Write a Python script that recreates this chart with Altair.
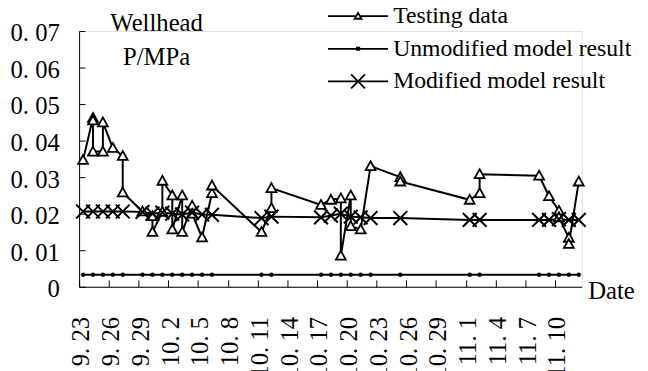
import altair as alt
import pandas as pd

# ---------------- data ----------------
tick_days = [0, 3, 6, 9, 12, 15, 18, 21, 24, 27, 30, 33, 36, 39, 42, 45, 48]
tick_labels = ["9. 23", "9. 26", "9. 29", "10. 2", "10. 5", "10. 8", "10. 11", "10. 14",
               "10. 17", "10. 20", "10. 23", "10. 26", "10. 29", "11. 1", "11. 4", "11. 7", "11. 10"]
y_ticks = [0, 0.01, 0.02, 0.03, 0.04, 0.05, 0.06, 0.07]
y_labels = ["0", "0. 01", "0. 02", "0. 03", "0. 04", "0. 05", "0. 06", "0. 07"]

series_names = ["Testing data", "Unmodified model result", "Modified model result"]

# days counted from 9.23
test_days = [0, 1, 1, 1, 2, 2, 3, 4, 4, 6, 7, 7, 8, 8, 9, 9, 10, 10, 11, 11, 12, 13, 13,
             18, 19, 19, 24, 25, 26, 26, 27, 27, 28, 29, 32, 32, 39, 40, 40,
             46, 47, 48, 48, 49, 49, 50]
test_values = [0.0347, 0.0462, 0.0455, 0.0370, 0.0370, 0.0450, 0.0380, 0.0358, 0.0258,
               0.0206, 0.0193, 0.0150, 0.0205, 0.0290, 0.0250, 0.0157, 0.0250, 0.0150,
               0.0222, 0.0200, 0.0135, 0.0256, 0.0277,
               0.0150, 0.0215, 0.0270, 0.0224, 0.0238, 0.0242, 0.0085, 0.0250, 0.0166,
               0.0157, 0.0330, 0.0300, 0.0288, 0.0238, 0.0256, 0.0308,
               0.0304, 0.0248, 0.0208, 0.0190, 0.0134, 0.0117, 0.0288]

model_days = [0, 1, 2, 3, 4, 6, 7, 8, 9, 10, 11, 12, 13, 18, 19, 24, 25, 26, 27, 28, 29,
              32, 39, 40, 46, 47, 48, 49, 50]
unmod_values = [0.0033, 0.0033, 0.0033, 0.0033, 0.0033, 0.0033, 0.0033, 0.0033, 0.0033,
                0.0033, 0.0033, 0.0033, 0.0033, 0.0033, 0.0033, 0.0033, 0.0033, 0.0033,
                0.0033, 0.0033, 0.0033, 0.0033, 0.0033, 0.0033, 0.0033, 0.0033, 0.0033,
                0.0033, 0.0033]
mod_values = [0.0206, 0.0206, 0.0206, 0.0206, 0.0206, 0.0205, 0.0200, 0.0203, 0.0200,
              0.0198, 0.0203, 0.0198, 0.0197, 0.0188, 0.0192, 0.0190, 0.0195, 0.0200,
              0.0192, 0.0190, 0.0188, 0.0188, 0.0183, 0.0183, 0.0183, 0.0183, 0.0185,
              0.0183, 0.0183]

rows = []
for i, (d, v) in enumerate(zip(test_days, test_values)):
    rows.append({"series": series_names[0], "day": d, "value": v, "idx": i})
for i, (d, v) in enumerate(zip(model_days, unmod_values)):
    rows.append({"series": series_names[1], "day": d, "value": v, "idx": i})
for i, (d, v) in enumerate(zip(model_days, mod_values)):
    rows.append({"series": series_names[2], "day": d, "value": v, "idx": i})
df = pd.DataFrame(rows)

FONT = "Liberation Serif"
FS = 25
W, H = 509, 259

x_lab_expr = "[" + ",".join("'%s'" % s for s in tick_labels) + "][round(datum.value/3)]"
y_lab_expr = "[" + ",".join("'%s'" % s for s in y_labels) + "][round(datum.value*100)]"

xscale = alt.Scale(domain=[0, 50.7], nice=False, zero=False)
yscale = alt.Scale(domain=[0, 0.07], nice=False, zero=False)

base = alt.Chart(df).transform_calculate(xpos="datum.day + 0.4")

x_main = alt.X("xpos:Q", scale=xscale, axis=alt.Axis(
    orient="bottom", values=tick_days, labelExpr=x_lab_expr, labelAngle=-90,
    labelFlush=False, labelOverlap=False, ticks=False, grid=False,
    domainColor="black", domainWidth=1, labelPadding=30, labelOffset=2,
    labelFont=FONT, labelFontSize=FS, labelColor="black", labelLimit=0,
    title="Date", titleX=515, titleY=12, titleAlign="left", titleBaseline="alphabetic",
    titleFont=FONT, titleFontSize=FS, titleFontWeight="normal", titleColor="black"))
y_main = alt.Y("value:Q", scale=yscale, axis=alt.Axis(
    orient="left", values=y_ticks, labelExpr=y_lab_expr, ticks=False, grid=False,
    domainColor="black", domainWidth=1, labelPadding=20, labelOffset=2,
    labelFont=FONT, labelFontSize=FS, labelColor="black",
    title=["Wellhead", "P/MPa"], titleAngle=0, titleX=78, titleY=-1,
    titleAlign="center", titleBaseline="alphabetic", titleLineHeight=35,
    titleFont=FONT, titleFontSize=FS, titleFontWeight="normal", titleColor="black"))

x_plain = alt.X("xpos:Q", scale=xscale, axis=None)
y_plain = alt.Y("value:Q", scale=yscale, axis=None)

lines = base.mark_line(color="black", strokeWidth=2).encode(
    x=x_main, y=y_main, detail="series:N", order=alt.Order("idx:Q"))

tri_path = "M0,-1L1,0.8L-1,0.8Z"
x_path = "M-1,-1L1,1M1,-1L-1,1"

triangles = base.transform_filter(alt.datum.series == series_names[0]).mark_point(
    shape=tri_path, size=100, filled=True, fill="white", stroke="black",
    strokeWidth=1.8, opacity=1).encode(x=x_plain, y=y_plain)
dots = base.transform_filter(alt.datum.series == series_names[1]).mark_point(
    shape="circle", size=16, filled=True, fill="black", stroke="black",
    strokeWidth=0.5, opacity=1).encode(x=x_plain, y=y_plain)
crosses = base.transform_filter(alt.datum.series == series_names[2]).mark_point(
    shape=x_path, size=196, filled=False, stroke="black", strokeWidth=2,
    opacity=1).encode(x=x_plain, y=y_plain)

leg_paths = [
    "M-7.6,0H-0.5M0.5,0H7.6M0,-0.85L0.875,0.65L-0.875,0.65Z",
    "M-7.6,0H7.6M-0.3,-0.3H0.3V0.3H-0.3Z",
    "M-7.6,0H7.6M-1.75,-1.75L1.75,1.75M1.75,-1.75L-1.75,1.75",
]

legend_layer = base.mark_point(opacity=0, filled=False, color="black").encode(
    x=alt.X("xpos:Q", scale=xscale, axis=alt.Axis(
        orient="top", offset=-H, values=tick_days, labels=False, domain=False,
        ticks=True, tickSize=7, tickColor="black", tickWidth=1, grid=False, title=None)),
    y=alt.Y("value:Q", scale=yscale, axis=alt.Axis(
        orient="right", offset=-W, values=y_ticks, labels=False, domain=False,
        ticks=True, tickSize=6, tickColor="black", tickWidth=1, grid=False, title=None)),
    shape=alt.Shape("series:N", scale=alt.Scale(domain=series_names, range=leg_paths),
                    legend=alt.Legend(
                        orient="none", legendX=270.5, legendY=-27, title=None,
                        labelFont=FONT, labelFontSize=24, labelColor="black", labelLimit=0,
                        symbolSize=64, symbolStrokeWidth=1.8, symbolStrokeColor="black",
                        symbolFillColor="white", symbolOpacity=1, labelOffset=23.5,
                        rowPadding=9, padding=0)),
)

chart = alt.layer(lines, triangles, dots, crosses, legend_layer).resolve_axis(
    x="independent", y="independent"
).properties(
    width=W, height=H,
    autosize=alt.AutoSizeParams(type="none"),
    padding={"left": 72, "top": 21, "right": 59, "bottom": 83},
).configure_view(strokeWidth=0).configure(background="white")

chart.save("out.html", embed_options={"renderer": "svg", "actions": False})
